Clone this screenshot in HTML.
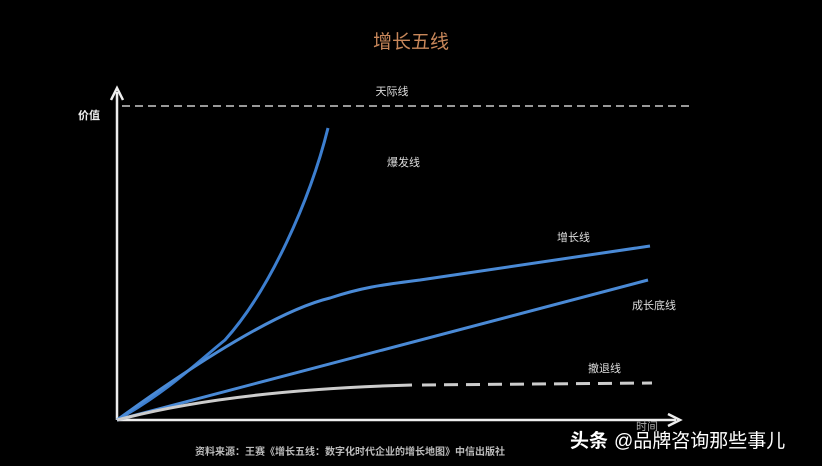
<!DOCTYPE html>
<html><head><meta charset="utf-8"><style>
html,body{margin:0;padding:0;background:#000;width:822px;height:466px;overflow:hidden}
svg{display:block}
text{font-family:"Liberation Sans","Noto Sans CJK SC",sans-serif}
</style></head><body>
<svg width="822" height="466" viewBox="0 0 822 466">
<rect width="822" height="466" fill="#000"/>
<text x="411" y="48" text-anchor="middle" font-size="19" fill="#c8875a">增长五线</text>
<text x="392" y="95" text-anchor="middle" font-size="11" fill="#ddd">天际线</text>
<line x1="122" y1="106" x2="692" y2="106" stroke="#999" stroke-width="2" stroke-dasharray="8,5"/>
<text x="78" y="119" font-size="11" font-weight="bold" fill="#eee">价值</text>
<line x1="117" y1="420" x2="117" y2="92" stroke="#eee" stroke-width="2.5"/>
<path d="M111,100 L117,88 L123,100" fill="none" stroke="#eee" stroke-width="2.5"/>
<line x1="117" y1="420" x2="676" y2="420" stroke="#eee" stroke-width="2.5"/>
<path d="M668,414 L680,420 L668,426" fill="none" stroke="#eee" stroke-width="2.5"/>
<text x="636" y="430" font-size="11" fill="#aaa">时间</text>
<path d="M117,420 C170,390 200,360 225,340 C270,290 310,200 328,128" fill="none" stroke="#3d7fd0" stroke-width="3"/>
<text x="387" y="166" font-size="11" fill="#ddd">爆发线</text>
<path d="M117,420 C200,360 280,310 330,298 C360,288 380,285 420,280 L650,246" fill="none" stroke="#4a8ad6" stroke-width="3"/>
<text x="557" y="241" font-size="11" fill="#ddd">增长线</text>
<path d="M117,420 L648,280" fill="none" stroke="#4a8ad6" stroke-width="3"/>
<text x="632" y="309" font-size="11" fill="#ddd">成长底线</text>
<path d="M117,420 C200,398 300,388 412,385" fill="none" stroke="#ccc" stroke-width="3"/>
<line x1="422" y1="385" x2="652" y2="383" stroke="#ccc" stroke-width="3" stroke-dasharray="14,8"/>
<text x="588" y="372" font-size="11" fill="#ddd">撤退线</text>
<text x="195" y="455" font-size="10" font-weight="bold" fill="#bbb">资料来源：王赛《增长五线：数字化时代企业的增长地图》中信出版社</text>
<text x="570" y="447" font-size="19" font-weight="bold" fill="#fff">头条</text>
<text x="614" y="447" font-size="19" fill="#fff">@品牌咨询那些事儿</text>
</svg>
</body></html>
